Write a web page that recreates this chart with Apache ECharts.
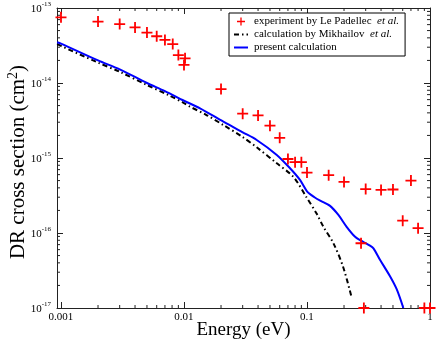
<!DOCTYPE html>
<html lang="en">
<head>
    <meta charset="utf-8">
    <title>DR cross section</title>
    <script src="https://cdn.jsdelivr.net/npm/echarts@6.0.0/dist/echarts.min.js"></script>
    <style>
        body { margin: 0; background: #fff; }
    </style>
</head>
<body>
<div id="dr-chart" style="width: 436px; height: 342px;"></div>
<script>
    // experiment by Le Padellec et al. (energy in eV, cross section in cm^2)
    var expEnergy = [0.001, 0.002, 0.003, 0.004, 0.005, 0.006, 0.007, 0.0081, 0.009, 0.0102, 0.01,
        0.02, 0.03, 0.04, 0.05, 0.06, 0.07, 0.08, 0.09, 0.1, 0.15, 0.2, 0.275, 0.29, 0.3, 0.4, 0.5,
        0.6, 0.7, 0.8, 0.9, 1.0];
    var expSigma = [7.5e-14, 6.6e-14, 6.1e-14, 5.5e-14, 4.7e-14, 4.2e-14, 3.75e-14, 3.3e-14, 2.36e-14, 2.13e-14, 1.74e-14,
        8.3e-15, 3.9e-15, 3.7e-15, 2.7e-15, 1.86e-15, 9.7e-16, 8.8e-16, 8.8e-16, 6.4e-16, 5.9e-16, 4.8e-16, 7.3e-17, 1.0e-17, 3.85e-16, 3.75e-16, 3.8e-16,
        1.46e-16, 5.0e-16, 1.16e-16, 1.0e-17, 1.0e-17];

    // calculation by Mikhailov et al.
    var mikEnergy = [0.00093, 0.001, 0.002, 0.003, 0.005, 0.0075, 0.01, 0.0112, 0.015, 0.0209, 0.03, 0.039, 0.0568,
        0.0775, 0.099, 0.12, 0.136, 0.164, 0.197, 0.231];
    var mikSigma = [3.3e-14, 3.12e-14, 1.87e-14, 1.41e-14, 9.4e-15, 6.9e-15, 5.4e-15, 4.83e-15, 3.8e-15, 2.75e-15, 1.9e-15, 1.39e-15, 8.5e-16,
        5.6e-16, 3.0e-16, 1.8e-16, 1.21e-16, 7.3e-17, 3.5e-17, 1.37e-17];

    // present calculation
    var presEnergy = [0.00093, 0.001, 0.002, 0.003, 0.005, 0.007, 0.01, 0.0135, 0.0209, 0.03, 0.039, 0.0568, 0.0728,
        0.0877, 0.1, 0.115, 0.128, 0.154, 0.18, 0.21, 0.246, 0.275, 0.296, 0.325, 0.347, 0.392, 0.473, 0.536, 0.607];
    var presSigma = [3.5e-14, 3.35e-14, 2.0e-14, 1.52e-14, 1.0e-14, 7.8e-15, 5.8e-15, 4.6e-15, 3.05e-15, 2.2e-15, 1.74e-15, 1.1e-15, 7.3e-16,
        5.1e-16, 3.6e-16, 3.0e-16, 2.7e-16, 2.3e-16, 1.74e-16, 1.21e-16, 8.9e-17, 7.9e-17, 7.4e-17, 6.8e-17, 6.25e-17, 4.4e-17, 2.65e-17, 1.78e-17, 1.0e-17];

    // axis ranges
    var xMin = 0.000928, xMax = 1;
    var yMinExp = -17, yMaxExp = -13;
    var xMinorTicks = [];
    [0.001, 0.01, 0.1].forEach(function (d) {
        for (var k = 2; k <= 9; k++) xMinorTicks.push(k * d);
    });
    var yMinorTicks = [];
    for (var e = yMinExp; e < yMaxExp; e++) {
        for (var k = 2; k <= 9; k++) yMinorTicks.push(k * Math.pow(10, e));
    }

    // plot cross sections in units of 1e-17 cm^2 (log axis rounds very small ticks)
    var Y_UNIT = 1e-17;
    function pairs(xs, ys) {
        return xs.map(function (x, i) { return [x, ys[i] / Y_UNIT]; });
    }

    var FONT = 'Liberation Serif';
    var AXIS_COLOR = '#222';
    var CROSS = 'path://M4.6,0H6.4V4.6H11V6.4H6.4V11H4.6V6.4H0V4.6H4.6Z';

    function isDecade(v) {
        var l = Math.log10(v);
        return Math.abs(l - Math.round(l)) < 1e-6;
    }

    function minorTickItem(horizontal) {
        return function (params, api) {
            var cs = params.coordSys;
            var p = api.coord([api.value(0), api.value(1)]);
            var st = {stroke: AXIS_COLOR, lineWidth: 1};
            if (horizontal) {
                return {type: 'group', children: [
                    {type: 'line', shape: {x1: p[0], y1: cs.y + cs.height, x2: p[0], y2: cs.y + cs.height - 3}, style: st},
                    {type: 'line', shape: {x1: p[0], y1: cs.y, x2: p[0], y2: cs.y + 3}, style: st}
                ]};
            }
            return {type: 'group', children: [
                {type: 'line', shape: {x1: cs.x, y1: p[1], x2: cs.x + 3, y2: p[1]}, style: st},
                {type: 'line', shape: {x1: cs.x + cs.width, y1: p[1], x2: cs.x + cs.width - 3, y2: p[1]}, style: st}
            ]};
        };
    }

    var logX = {
        type: 'log', logBase: 10, min: xMin, max: xMax,
        axisLine: {lineStyle: {color: AXIS_COLOR, width: 1}},
        axisTick: {inside: true, length: 6, lineStyle: {color: AXIS_COLOR}},
        splitLine: {show: false}
    };
    var logY = {
        type: 'log', logBase: 10, min: Math.pow(10, yMinExp) / Y_UNIT, max: Math.pow(10, yMaxExp) / Y_UNIT,
        axisLine: {lineStyle: {color: AXIS_COLOR, width: 1}},
        axisTick: {inside: true, length: 6, lineStyle: {color: AXIS_COLOR}},
        splitLine: {show: false}
    };

    var chart = echarts.init(document.getElementById('dr-chart'));
    var option = {
        animation: false,
        backgroundColor: '#fff',
        grid: {left: 57, right: 6, top: 8, bottom: 34, outerBoundsMode: 'none', containLabel: false},
        legend: {
            left: 229, top: 13,
            orient: 'vertical',
            itemWidth: 14, itemHeight: 8, itemGap: 2,
            padding: [3, 6, 3, 4],
            borderColor: '#000', borderWidth: 1,
            backgroundColor: '#fff',
            data: [
                {name: 'experiment by Le Padellec'},
                {name: 'calculation by Mikhailov', itemStyle: {opacity: 0}},
                {name: 'present calculation', itemStyle: {opacity: 0}}
            ],
            formatter: function (name) {
                return name === 'present calculation' ? name : name + '  {i|et al.}';
            },
            textStyle: {
                fontFamily: FONT, fontSize: 11, color: '#000', padding: [0, 0, 0, 1],
                rich: {i: {fontFamily: FONT, fontSize: 11, fontStyle: 'italic', color: '#000'}}
            }
        },
        xAxis: [
            Object.assign({}, logX, {
                position: 'bottom',
                name: 'Energy (eV)', nameLocation: 'middle', nameGap: 13, nameMoveOverlap: false,
                nameTextStyle: {fontFamily: FONT, fontSize: 19, color: '#000'},
                axisLabel: {
                    margin: 4, fontFamily: FONT, fontSize: 11, color: '#000',
                    formatter: function (v) { return isDecade(v) ? String(+v.toPrecision(3)) : ''; }
                }
            }),
            Object.assign({}, logX, {position: 'top', axisLabel: {show: false}})
        ],
        yAxis: [
            Object.assign({}, logY, {
                position: 'left',
                name: 'DR cross section (cm{sup|2})', nameLocation: 'middle', nameGap: 27, nameMoveOverlap: false,
                nameTextStyle: {
                    fontFamily: FONT, fontSize: 21, color: '#000', padding: [0, 8, 0, 0],
                    rich: {sup: {fontFamily: FONT, fontSize: 14, color: '#000', verticalAlign: 'bottom', padding: [0, 0, 10, 0]}}
                },
                axisLabel: {
                    margin: 6,
                    formatter: function (v) {
                        if (!isDecade(v)) return '';
                        return '{b|10}{s|' + (Math.round(Math.log10(v * Y_UNIT))) + '}';
                    },
                    rich: {
                        b: {fontFamily: FONT, fontSize: 11, color: '#000', verticalAlign: 'bottom'},
                        s: {fontFamily: FONT, fontSize: 7, color: '#000', verticalAlign: 'bottom', padding: [0, 0, 7, 0]}
                    }
                }
            }),
            Object.assign({}, logY, {position: 'right', axisLabel: {show: false}})
        ],
        series: [
            {
                name: 'calculation by Mikhailov',
                type: 'line',
                data: pairs(mikEnergy, mikSigma),
                smooth: 0.3,
                symbol: 'none',
                lineStyle: {color: '#000', width: 2, type: [5, 3, 1.5, 3]},
                itemStyle: {color: '#000'},
                z: 2
            },
            {
                name: 'present calculation',
                type: 'line',
                data: pairs(presEnergy, presSigma),
                smooth: 0.3,
                symbol: 'none',
                lineStyle: {color: '#0000ff', width: 2},
                itemStyle: {color: '#0000ff'},
                z: 3
            },
            {
                name: 'experiment by Le Padellec',
                type: 'scatter',
                data: pairs(expEnergy, expSigma),
                symbol: CROSS,
                symbolSize: 11,
                itemStyle: {color: '#ff0000', opacity: 1},
                z: 4
            },
            {
                type: 'custom',
                silent: true,
                renderItem: minorTickItem(true),
                data: xMinorTicks.map(function (v) { return [v, 10]; }),
                clip: false,
                z: 1
            },
            {
                type: 'custom',
                silent: true,
                renderItem: minorTickItem(false),
                data: yMinorTicks.map(function (v) { return [0.01, v / Y_UNIT]; }),
                clip: false,
                z: 1
            }
        ]
    };
    chart.setOption(option);
</script>
</body>
</html>
